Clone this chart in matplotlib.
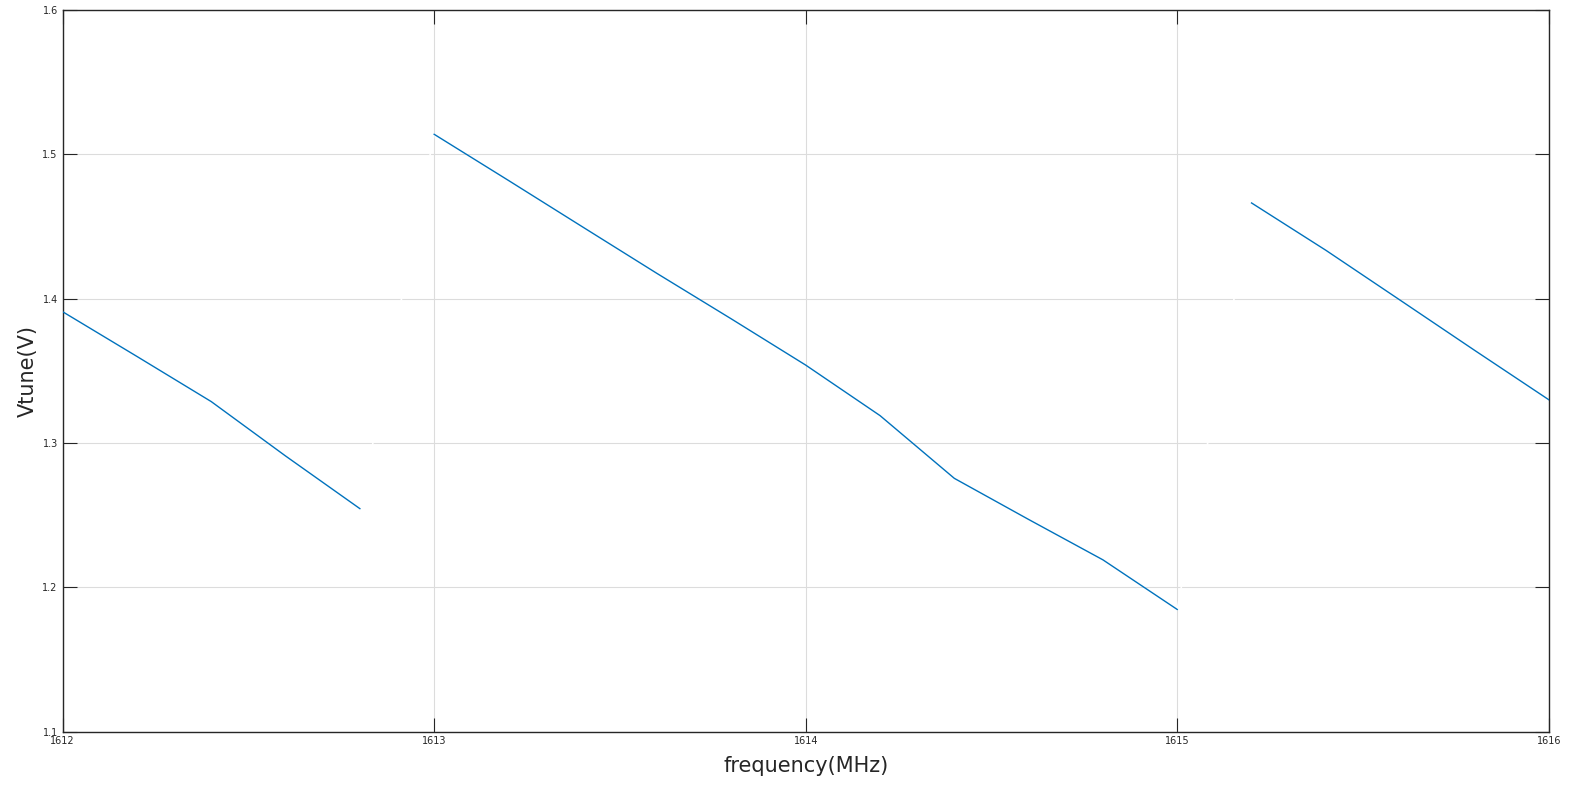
import matplotlib.pyplot as plt
import numpy as np

# data
freq = [1612.0, 1612.2, 1612.4, 1612.6, 1612.8,
        1613.0, 1613.2, 1613.4, 1613.6, 1613.8, 1614.0, 1614.2, 1614.4, 1614.6, 1614.8, 1615.0,
        1615.2, 1615.4, 1615.6, 1615.8, 1616.0]
vtune = [1.391, 1.360, 1.3287, 1.291, 1.2545,
         1.514, 1.482, 1.4497, 1.4175, 1.386, 1.354, 1.319, 1.2755, 1.247, 1.219, 1.1846,
         1.4664, 1.4336, 1.399, 1.3643, 1.330]
# index where a new sweep segment starts (jump back up)
seg_starts = [0, 5, 16]

fig = plt.figure(figsize=(15.82, 7.87), dpi=100)
ax = fig.add_axes([0.0396, 0.0705, 0.9394, 0.9165])

bounds = seg_starts + [len(freq)]
for k in range(len(seg_starts)):
    a, b = bounds[k], bounds[k + 1]
    ax.plot(freq[a:b], vtune[a:b], color='#0072BD', lw=1.0, zorder=3)
    # the jump to the next segment is drawn in white
    if k + 1 < len(seg_starts):
        ax.plot([freq[b - 1], freq[b]], [vtune[b - 1], vtune[b]], color='white', lw=1.2, zorder=2)

ax.set_xlim(1612, 1616)
ax.set_ylim(1.1, 1.6)
ax.set_xticks([1612, 1613, 1614, 1615, 1616])
ax.set_yticks(np.round(np.arange(1.1, 1.61, 0.1), 1))
ax.set_xticklabels(['1612', '1613', '1614', '1615', '1616'])
ax.grid(True, color='#dcdcdc', lw=0.8, zorder=1)
ax.tick_params(direction='in', length=10, width=0.8, labelsize=7, colors='#262626',
               top=True, right=True)
for s in ax.spines.values():
    s.set_color('#262626')
    s.set_linewidth(1.0)

ax.set_xlabel('frequency(MHz)', fontsize=15, color='#262626', labelpad=7)
ax.set_ylabel('Vtune(V)', fontsize=15, color='#262626', labelpad=3)

fig.savefig('out.png', dpi=100)
